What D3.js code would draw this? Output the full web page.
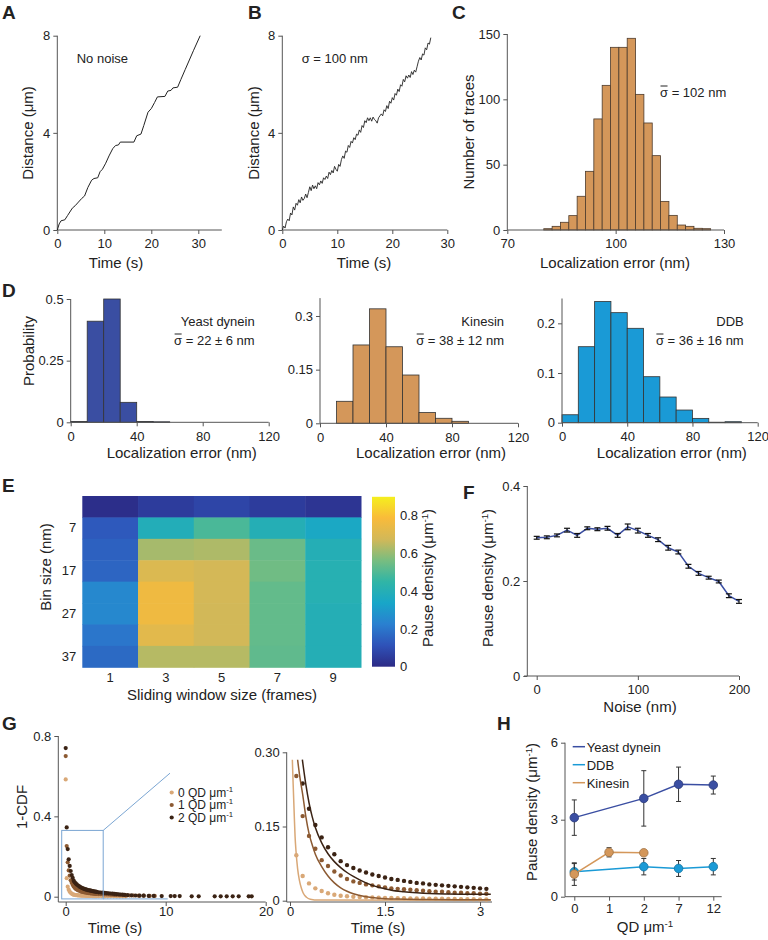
<!DOCTYPE html>
<html>
<head>
<meta charset="utf-8">
<script src="https://cdn.jsdelivr.net/npm/d3@7"></script>
<style>
body { margin: 0; background: #fff; }
svg text { font-family: "Liberation Sans", Arial, sans-serif; fill: #222; }
</style>
</head>
<body>
<svg id="canvas" width="768" height="940"></svg>
<script>
// ---------- data ----------

// A: trace without noise [time s, distance um]
let traceA = [[0,0],[0.4,0.25],[0.8,0.38],[1.6,0.42],[2.2,0.6],[3.2,0.9],[3.8,1.0],[4.5,1.15],[5.2,1.3],
  [5.8,1.4],[6.5,1.75],[7.3,2.05],[7.8,2.12],[8.6,2.15],[9.1,2.4],[9.6,2.5],[10.3,2.75],[11.0,3.05],
  [11.8,3.35],[12.4,3.48],[13.0,3.5],[13.4,3.62],[16.3,3.62],[16.9,3.88],[17.8,3.95],[18.4,4.3],
  [19.3,4.85],[20.0,5.0],[20.7,5.25],[21.3,5.48],[22.9,5.5],[23.5,5.72],[24.2,5.75],[24.6,5.85],
  [25.6,5.88],[26.3,6.2],[27.2,6.6],[28.1,7.0],[29.0,7.4],[30.4,8.0]]

// B: trace with sigma = 100 nm noise, one value every 0.25 s
let stepB = 0.25
let traceB = [0.00,0.16,0.08,0.34, 0.45,0.38,0.70,0.62, 0.95,0.82,1.10,1.02, 1.25,1.12,1.36,1.22,
  1.30,1.48,1.33,1.55, 1.78,1.62,1.85,1.70, 1.82,1.70,1.95,1.86, 2.02,1.92,2.15,2.08,
  2.22,2.12,2.38,2.28, 2.45,2.35,2.62,2.50, 2.42,2.70,2.62,2.90, 3.05,2.95,3.25,3.20,
  3.48,3.40,3.65,3.58, 3.80,3.72,3.95,3.90, 4.12,4.02,4.30,4.22, 4.50,4.42,4.62,4.50,
  4.62,4.48,4.65,4.55, 4.50,4.40,4.62,4.70, 4.78,4.70,4.95,4.88, 5.12,5.00,5.30,5.22,
  5.45,5.35,5.62,5.55, 5.80,5.70,5.98,5.92, 6.20,6.10,6.35,6.25, 6.38,6.28,6.52,6.40,
  6.58,6.50,6.72,6.95, 7.10,7.00,7.25,7.20, 7.50,7.42,7.70,7.65, 7.92]

// C: localization error histogram
let binStartC = 80.1
let binWidthC = 2.31
let countsC = [1,2.8,5.9,11,25.8,44.9,85,110.7,139.8,139.8,146.7,103.8,81.9,56.9,21.9,11.2,3.8,2.8,1.3,1]

// D: probability per 10 nm bin
let binsD = [0,10,20,30,40,50,60,70,80,90,100,110]
let probDynein  = [0.003,0.41,0.5,0.081,0.003,0.002,0,0,0,0,0,0]
let probKinesin = [0,0.0615,0.219,0.32,0.214,0.135,0.030,0.014,0.0056,0,0,0]
let probDDB     = [0.016,0.153,0.244,0.2215,0.19,0.0926,0.0517,0.0255,0.0087,0.001,0.002,0]

// E: pause density, rows = bin size, cols = sliding window
let windowsE = [1,3,5,7,9]
let binSizesE = [2,7,12,17,22,27,32,37]
let binTicksE = [7,17,27,37]
let pauseE = [
  [0.01,0.05,0.075,0.05,0.03],
  [0.13,0.39,0.49,0.40,0.35],
  [0.15,0.62,0.63,0.54,0.40],
  [0.16,0.70,0.68,0.55,0.41],
  [0.25,0.76,0.68,0.53,0.41],
  [0.25,0.76,0.675,0.53,0.40],
  [0.20,0.72,0.675,0.53,0.40],
  [0.17,0.64,0.64,0.525,0.40]]
let parulaStops = ['#2c2a85','#2f52b8','#2a80d0','#18a6c8','#30b5a6','#78bd80','#d2b858','#f9bb3a','#f5ef1e']
let cbTicks = [0,0.2,0.4,0.6,0.8]

// F: pause density vs noise
let noiseF = [0,10,20,30,40,50,60,70,80,90,100,110,120,130,140,150,160,170,180,190,200]
let pauseF = [0.291,0.292,0.296,0.307,0.296,0.311,0.309,0.311,0.296,0.314,0.306,0.296,0.287,0.270,0.261,0.231,0.216,0.207,0.199,0.169,0.157]
let errF   = [0.003,0.003,0.003,0.004,0.004,0.003,0.003,0.004,0.004,0.006,0.005,0.004,0.004,0.005,0.004,0.004,0.004,0.003,0.003,0.004,0.004]

// G: 1-CDF of pause durations, one value every 0.1 s from 0 to 3.1 s
let stepG = 0.1
let cdf0 = [0.584,0.092,0.050,0.035,0.025,0.0195,0.015,0.012,0.010,0.009,0.008,0.0075,0.007,0.0065,0.006,0.0058,
  0.0055,0.0052,0.005,0.0048,0.0046,0.0044,0.0042,0.004,0.0038,0.0036,0.0034,0.0032,0.003,0.0028,0.0026,0.0025]
let cdf1 = [0.70,0.252,0.171,0.131,0.105,0.082,0.070,0.059,0.051,0.044,0.039,0.036,0.033,0.031,0.029,0.027,
  0.025,0.024,0.023,0.022,0.021,0.020,0.019,0.018,0.018,0.017,0.016,0.016,0.015,0.015,0.014,0.014]
let cdf2 = [0.74,0.345,0.237,0.186,0.153,0.128,0.108,0.094,0.080,0.072,0.066,0.061,0.057,0.053,0.050,0.047,
  0.044,0.042,0.040,0.038,0.036,0.035,0.033,0.032,0.031,0.030,0.029,0.028,0.027,0.026,0.025,0.024]
// tails after 3.1 s [time, value]
let tail0 = [[3.3,.0024],[3.6,.0022],[3.9,.002],[4.2,.002],[4.5,.0018],[4.8,.0017],[5.1,.0016],[5.4,.0015],[5.7,.0014],[6.0,.0013]]
let tail1 = [[3.3,.013],[3.5,.013],[3.7,.012],[3.9,.012],[4.1,.011],[4.3,.011],[4.5,.010],[4.7,.010],[4.9,.009],[5.1,.009],
  [5.4,.008],[5.7,.008],[6.0,.007],[6.4,.006],[6.8,.006],[7.3,.005],[7.8,.005],[8.4,.004],[8.9,.004]]
let tail2 = [[3.3,.022],[3.5,.021],[3.7,.02],[3.9,.019],[4.1,.018],[4.3,.017],[4.5,.016],[4.7,.015],[4.9,.014],[5.1,.013],
  [5.3,.012],[5.5,.011],[5.7,.010],[5.9,.009],[6.2,.008],[6.6,.007],[7.0,.006],[7.4,.005],[7.8,.005],[8.3,.004],
  [8.8,.004],[9.6,.003],[10.5,.003],[10.9,.003],[11.4,.003],[12.6,.002],[13.3,.002],[14.9,.002],[15.5,.002],
  [16.1,.002],[16.7,.002],[17.3,.002],[18.3,.002],[18.6,.002]]
// exponential fits in the zoomed inset [time, value]
let fit0 = [[0.037,0.285],[0.05,0.235],[0.068,0.17],[0.08,0.13],[0.095,0.10],[0.12,0.065],[0.147,0.042],[0.18,0.025],
  [0.21,0.015],[0.26,0.007],[0.32,0.003],[0.45,0.0012],[3.17,0.001]]
let fit1 = [[0.12,0.285],[0.15,0.255],[0.2,0.215],[0.25,0.17],[0.3,0.136],[0.35,0.113],[0.4,0.094],[0.5,0.069],[0.6,0.05],
  [0.7,0.036],[0.8,0.026],[0.9,0.019],[1.0,0.014],[1.2,0.008],[1.4,0.005],[1.7,0.0032],[2.2,0.0022],[3.17,0.002]]
let fit2 = [[0.195,0.285],[0.25,0.235],[0.3,0.198],[0.35,0.17],[0.4,0.148],[0.5,0.117],[0.6,0.095],[0.7,0.079],[0.8,0.067],
  [0.9,0.057],[1.0,0.049],[1.1,0.042],[1.2,0.036],[1.3,0.031],[1.4,0.027],[1.5,0.024],[1.6,0.021],[1.8,0.018],
  [2.0,0.016],[2.2,0.0145],[2.5,0.0135],[2.8,0.013],[3.17,0.0128]]
let legendG = ['0','1','2']

// H: pause density vs QD density
let qdH = ['0','1','2','7','12']
let dyneinQD = ['0','2','7','12'], dyneinMean = [3.08,3.83,4.38,4.35], dyneinErr = [0.69,1.08,0.67,0.35]
let ddbQD = ['0','2','7','12'], ddbMean = [0.97,1.17,1.10,1.17], ddbErr = [0.32,0.32,0.31,0.32]
let kinesinQD = ['0','1','2'], kinesinMean = [0.88,1.73,1.71], kinesinErr = [0.44,0.18,0.05]

// ---------- drawing ----------
let canvas = d3.select('#canvas')
const AX = '#555'
const BLUE = '#3a4ea2', CYAN = '#1a9ad6', TAN = '#d4975a'
const BROWNS = ['#d9a877', '#8c5a32', '#3b2314']

function hline(x1, x2, y, c) {
  return canvas.append('line').attr('x1', x1).attr('x2', x2).attr('y1', y).attr('y2', y).attr('stroke', c || AX)
}
function vline(x, y1, y2, c) {
  return canvas.append('line').attr('x1', x).attr('x2', x).attr('y1', y1).attr('y2', y2).attr('stroke', c || AX)
}

function tidy(g) {
  g.select('.domain').remove()
  g.selectAll('.tick line').attr('stroke', AX)
  g.selectAll('.tick text').attr('fill', '#222').style('font-size', '13px')
}

function xAxisAt(x, y, ticks, fmt, x1, x2, pad) {
  let g = canvas.append('g').attr('transform', 'translate(0,' + y + ')')
    .call(d3.axisBottom(x).tickValues(ticks).tickFormat(fmt || (d => d)).tickSize(4).tickPadding(pad != null ? pad : 5))
  tidy(g)
  hline(x1 != null ? x1 : x.range()[0], x2 != null ? x2 : x.range()[1], y)
}
function yAxisAt(y, x, ticks, fmt, y1, y2) {
  let g = canvas.append('g').attr('transform', 'translate(' + x + ',0)')
    .call(d3.axisLeft(y).tickValues(ticks).tickFormat(fmt || (d => d)).tickSize(4).tickPadding(3))
  tidy(g)
  vline(x, y1 != null ? y1 : y.range()[0], y2 != null ? y2 : y.range()[1])
}

// text with optional superscript pieces: [[str, isSup], ...]
function addText(x, y, pieces, o) {
  o = o || {}
  let t = canvas.append('text')
    .attr('transform', 'translate(' + x + ',' + y + ')' + (o.rotate ? ' rotate(' + o.rotate + ')' : ''))
    .attr('text-anchor', o.anchor || 'middle')
    .style('font-size', (o.size || 15) + 'px')
    .style('font-weight', o.weight || 'normal')
  if (typeof pieces === 'string') pieces = [[pieces]]
  let prevSup = false
  pieces.forEach(p => {
    let s = t.append('tspan').text(p[0])
    if (p[1]) { s.style('font-size', '65%').attr('dy', -5) }
    else if (prevSup) { s.attr('dy', 5) }
    prevSup = !!p[1]
  })
  return t
}
const umInv = [['Pause density (μm'], ['-1', true], [')']]

// sigma with a bar over it
function sigmaBar(x, y, rest, anchor) {
  let t = canvas.append('text').attr('x', x).attr('y', y)
    .attr('text-anchor', anchor || 'start').style('font-size', '13px')
  t.append('tspan').text('σ')
  t.append('tspan').text(rest)
  let r = t.node().getExtentOfChar(0)
  hline(r.x + 0.5, r.x + r.width - 0.5, y - 11, '#222')
}

function letter(x, y, s) { addText(x, y, s, { size: 19, weight: 'bold', anchor: 'start' }) }

const fmtNum = d => d === 0 ? '0' : String(d)

// ----- A -----
let xA = d3.scaleLinear().domain([0, 35]).range([57.3, 221.8])
let yA = d3.scaleLinear().domain([0, 8]).range([230, 35.7])
xAxisAt(xA, 230, [0, 10, 20, 30])
yAxisAt(yA, 57.3, [0, 4, 8])
canvas.append('path').datum(traceA)
  .attr('d', d3.line().x(d => xA(d[0])).y(d => yA(d[1])))
  .attr('fill', 'none').attr('stroke', '#222').attr('stroke-width', 1)
addText(76.7, 63, 'No noise', { size: 13, anchor: 'start' })
addText(33, 133, 'Distance (μm)', { rotate: -90 })
addText(116, 268, 'Time (s)')
letter(2, 18.5, 'A')

// ----- B -----
let xB = d3.scaleLinear().domain([0, 30]).range([282.3, 447.3])
let yB = d3.scaleLinear().domain([0, 8]).range([230, 35.7])
xAxisAt(xB, 230, [0, 10, 20, 30])
yAxisAt(yB, 282.3, [0, 4, 8])
canvas.append('path').datum(traceB)
  .attr('d', d3.line().x((d, i) => xB(i * stepB)).y(d => yB(d)))
  .attr('fill', 'none').attr('stroke', '#222').attr('stroke-width', 0.9)
addText(301.7, 63, 'σ = 100 nm', { size: 13, anchor: 'start' })
addText(259, 133, 'Distance (μm)', { rotate: -90 })
addText(364, 268, 'Time (s)')
letter(248, 18.5, 'B')

// ----- C -----
let xC = d3.scaleLinear().domain([70, 130]).range([507.3, 724])
let yC = d3.scaleLinear().domain([0, 150]).range([230, 34])
canvas.append('g').selectAll('rect').data(countsC).enter().append('rect')
  .attr('x', (d, i) => xC(binStartC + i * binWidthC))
  .attr('width', xC(binStartC + binWidthC) - xC(binStartC))
  .attr('y', d => yC(d)).attr('height', d => yC(0) - yC(d))
  .attr('fill', TAN).attr('stroke', '#4d3b2c').attr('stroke-width', 0.8)
xAxisAt(xC, 230, [70, 100, 130])
yAxisAt(yC, 507.3, [0, 50, 100, 150])
sigmaBar(660, 97, ' = 102 nm')
addText(474, 132, 'Number of traces', { rotate: -90 })
addText(615, 268, 'Localization error (nm)')
letter(452, 18.5, 'C')

// ----- D -----
function histD(x0, x1, y0, yTop, ymax, ticks, probs, color, name, sig) {
  let x = d3.scaleLinear().domain([0, 120]).range([x0, x1])
  let y = d3.scaleLinear().domain([0, ymax]).range([y0, yTop])
  canvas.append('g').selectAll('rect').data(probs).enter().append('rect')
    .attr('x', (d, i) => x(binsD[i])).attr('width', x(10) - x(0))
    .attr('y', d => y(d)).attr('height', d => y(0) - y(d))
    .attr('fill', color).attr('stroke', '#333').attr('stroke-width', d => d > 0 ? 0.8 : 0)
  xAxisAt(x, y0, [0, 40, 80, 120])
  yAxisAt(y, x0, ticks, fmtNum)
  addText(x1 - 14, 326, name, { size: 13, anchor: 'end' })
  sigmaBar(x1 - 14, 345, sig, 'end')
  addText((x0 + x1) / 2 + 12, 458, 'Localization error (nm)')
}
histD(70.7, 268.7, 422.3, 299, 0.5, [0, 0.25, 0.5], probDynein, BLUE, 'Yeast dynein', ' = 22 ± 6 nm')
histD(320, 518, 423.3, 298.1, 0.35, [0, 0.15, 0.3], probKinesin, TAN, 'Kinesin', ' = 38 ± 12 nm')
histD(562, 757.7, 422.7, 298.5, 0.25, [0, 0.1, 0.2], probDDB, CYAN, 'DDB', ' = 36 ± 16 nm')
addText(33.5, 351, 'Probability', { rotate: -90 })
letter(2, 297, 'D')

// ----- E -----
let xE = d3.scaleBand().domain(windowsE).range([82.3, 361])
let yE = d3.scaleBand().domain(binSizesE).range([496, 667.3])
let parula = d3.scaleLinear()
  .domain(parulaStops.map((c, i) => 0.9 * i / (parulaStops.length - 1)))
  .range(parulaStops).clamp(true)
let cells = []
pauseE.forEach((row, r) => row.forEach((v, c) => cells.push({ b: binSizesE[r], w: windowsE[c], v: v })))
canvas.append('g').selectAll('rect').data(cells).enter().append('rect')
  .attr('x', d => xE(d.w)).attr('y', d => yE(d.b))
  .attr('width', xE.bandwidth() + 0.5).attr('height', yE.bandwidth() + 0.5)
  .attr('fill', d => parula(d.v))
let gxE = canvas.append('g').attr('transform', 'translate(0,667.3)')
  .call(d3.axisBottom(xE).tickSize(0).tickPadding(5))
tidy(gxE)
let gyE = canvas.append('g').attr('transform', 'translate(82.3,0)')
  .call(d3.axisLeft(yE).tickValues(binTicksE).tickSize(0).tickPadding(6))
tidy(gyE)
// colour bar
let cbY = d3.scaleLinear().domain([0, 0.9]).range([666.7, 496.8])
let grad = canvas.append('defs').append('linearGradient').attr('id', 'parula')
  .attr('x1', 0).attr('x2', 0).attr('y1', 1).attr('y2', 0)
parulaStops.forEach((c, i) => grad.append('stop').attr('offset', i / (parulaStops.length - 1)).attr('stop-color', c))
canvas.append('rect').attr('x', 372).attr('y', cbY(0.9)).attr('width', 23).attr('height', cbY(0) - cbY(0.9))
  .attr('fill', 'url(#parula)')
let gcb = canvas.append('g').attr('transform', 'translate(395,0)')
  .call(d3.axisRight(cbY).tickValues(cbTicks).tickFormat(fmtNum).tickSize(0).tickPadding(5))
tidy(gcb)
addText(433, 578, umInv, { rotate: -90 })
addText(51, 567, 'Bin size (nm)', { rotate: -90 })
addText(222, 700, 'Sliding window size (frames)')
letter(2, 492, 'E')

// ----- F -----
let xF = d3.scaleLinear().domain([0, 200]).range([536.7, 739])
let yF = d3.scaleLinear().domain([0, 0.4]).range([676, 486])
xAxisAt(xF, 676, [0, 100, 200], null, 524, 739)
yAxisAt(yF, 527.3, [0, 0.2, 0.4], fmtNum)
canvas.append('path').datum(noiseF)
  .attr('d', d3.line().x(d => xF(d)).y((d, i) => yF(pauseF[i])))
  .attr('fill', 'none').attr('stroke', BLUE).attr('stroke-width', 1.5)
let ebF = canvas.append('g').attr('stroke', '#111').attr('stroke-width', 1.2)
noiseF.forEach((n, i) => {
  let x = xF(n), y1 = yF(pauseF[i] - errF[i]), y2 = yF(pauseF[i] + errF[i])
  ebF.append('line').attr('x1', x).attr('x2', x).attr('y1', y1).attr('y2', y2)
  ebF.append('line').attr('x1', x - 3).attr('x2', x + 3).attr('y1', y1).attr('y2', y1)
  ebF.append('line').attr('x1', x - 3).attr('x2', x + 3).attr('y1', y2).attr('y2', y2)
})
addText(493, 578, umInv, { rotate: -90 })
addText(640, 712, 'Noise (nm)')
letter(463, 499, 'F')

// ----- G -----
let seriesG = [cdf0, cdf1, cdf2].map((arr, k) =>
  arr.map((v, i) => [i * stepG, v]).concat([tail0, tail1, tail2][k]))
let xG = d3.scaleLinear().domain([0, 20]).range([65.7, 265.7])
let yG = d3.scaleLinear().domain([0, 0.8]).range([896.7, 736])
xAxisAt(xG, 902, [0, 10, 20], null, 58.3, 265.7, 1)
yAxisAt(yG, 58.3, [0, 0.4, 0.8], fmtNum, 902, 736)
seriesG.forEach((s, k) => {
  canvas.append('g').selectAll('circle').data(s).enter().append('circle')
    .attr('cx', d => xG(d[0])).attr('cy', d => yG(d[1])).attr('r', 2.1).attr('fill', BROWNS[k])
})
// zoom box and connector
const ZB = '#7ba6d3'
canvas.append('rect').attr('x', xG(-0.4)).attr('y', yG(0.33))
  .attr('width', xG(3.75) - xG(-0.4)).attr('height', yG(-0.011) - yG(0.33))
  .attr('fill', 'none').attr('stroke', ZB).attr('stroke-width', 1)
canvas.append('line').attr('x1', xG(3.75)).attr('y1', yG(0.33)).attr('x2', xG(10.43)).attr('y2', yG(0.615))
  .attr('stroke', ZB)
hline(xG(3.75), xG(10.2), yG(-0.011), ZB)
// legend
legendG.forEach((q, k) => {
  let y = 792.5 + k * 12.5
  canvas.append('circle').attr('cx', 171.7).attr('cy', y).attr('r', 2.1).attr('fill', BROWNS[k])
  addText(178, y + 4.3, [[q + ' QD μm'], ['-1', true]], { size: 12, anchor: 'start' })
})
addText(27, 807, '1-CDF', { rotate: -90 })
addText(115, 933, 'Time (s)')
letter(2, 730, 'G')

// inset
let xI = d3.scaleLinear().domain([0, 3.2]).range([290, 492.7])
let yI = d3.scaleLinear().domain([0, 0.3]).range([900.7, 752.3])
xAxisAt(xI, 902, [0, 1.5, 3], null, 286.7, 492, 1)
yAxisAt(yI, 286.7, [0, 0.15, 0.3], d => d === 0 ? '0' : d3.format('.2f')(d), 902, 752.3)
seriesG.forEach((s, k) => {
  canvas.append('g').selectAll('circle').data(s.filter(d => d[0] <= 3.15 && d[1] <= 0.3)).enter().append('circle')
    .attr('cx', d => xI(d[0])).attr('cy', d => yI(d[1])).attr('r', 2.2).attr('fill', BROWNS[k])
})
;[fit0, fit1, fit2].forEach((f, k) => {
  canvas.append('path').datum(f)
    .attr('d', d3.line().curve(d3.curveMonotoneX).x(d => xI(d[0])).y(d => yI(d[1])))
    .attr('fill', 'none').attr('stroke', BROWNS[k]).attr('stroke-width', 1.5)
})
addText(378, 933, 'Time (s)')

// ----- H -----
let xH = d3.scalePoint().domain(qdH).range([574.3, 713.3])
let yH = d3.scaleLinear().domain([0, 6]).range([896.7, 742.7])
xAxisAt(xH, 896.7, qdH, null, 565, 721.7, 3)
yAxisAt(yH, 565, [0, 3, 6])
function seriesH(qd, mean, err, color) {
  canvas.append('path').datum(qd)
    .attr('d', d3.line().x(d => xH(d)).y((d, i) => yH(mean[i])))
    .attr('fill', 'none').attr('stroke', color).attr('stroke-width', 1.5)
  let g = canvas.append('g').attr('stroke', '#333').attr('stroke-width', 1)
  qd.forEach((q, i) => {
    let x = xH(q), y1 = yH(mean[i] - err[i]), y2 = yH(mean[i] + err[i])
    g.append('line').attr('x1', x).attr('x2', x).attr('y1', y1).attr('y2', y2)
    g.append('line').attr('x1', x - 2.5).attr('x2', x + 2.5).attr('y1', y1).attr('y2', y1)
    g.append('line').attr('x1', x - 2.5).attr('x2', x + 2.5).attr('y1', y2).attr('y2', y2)
  })
  canvas.append('g').selectAll('circle').data(qd).enter().append('circle')
    .attr('cx', d => xH(d)).attr('cy', (d, i) => yH(mean[i])).attr('r', 4.3)
    .attr('fill', color).attr('stroke', d3.color(color).darker(0.8)).attr('stroke-width', 0.8)
}
seriesH(dyneinQD, dyneinMean, dyneinErr, BLUE)
seriesH(ddbQD, ddbMean, ddbErr, CYAN)
seriesH(kinesinQD, kinesinMean, kinesinErr, TAN)
let legendH = [['Yeast dynein', BLUE], ['DDB', CYAN], ['Kinesin', TAN]]
legendH.forEach((l, k) => {
  let y = 746.7 + k * 18
  hline(572.7, 585, y, l[1]).attr('stroke-width', 1.5)
  addText(586.7, y + 5, l[0], { size: 13, anchor: 'start' })
})
addText(537, 812, umInv, { rotate: -90 })
addText(645, 932, [['QD μm'], ['-1', true]])
letter(497, 730, 'H')
</script>
</body>
</html>
